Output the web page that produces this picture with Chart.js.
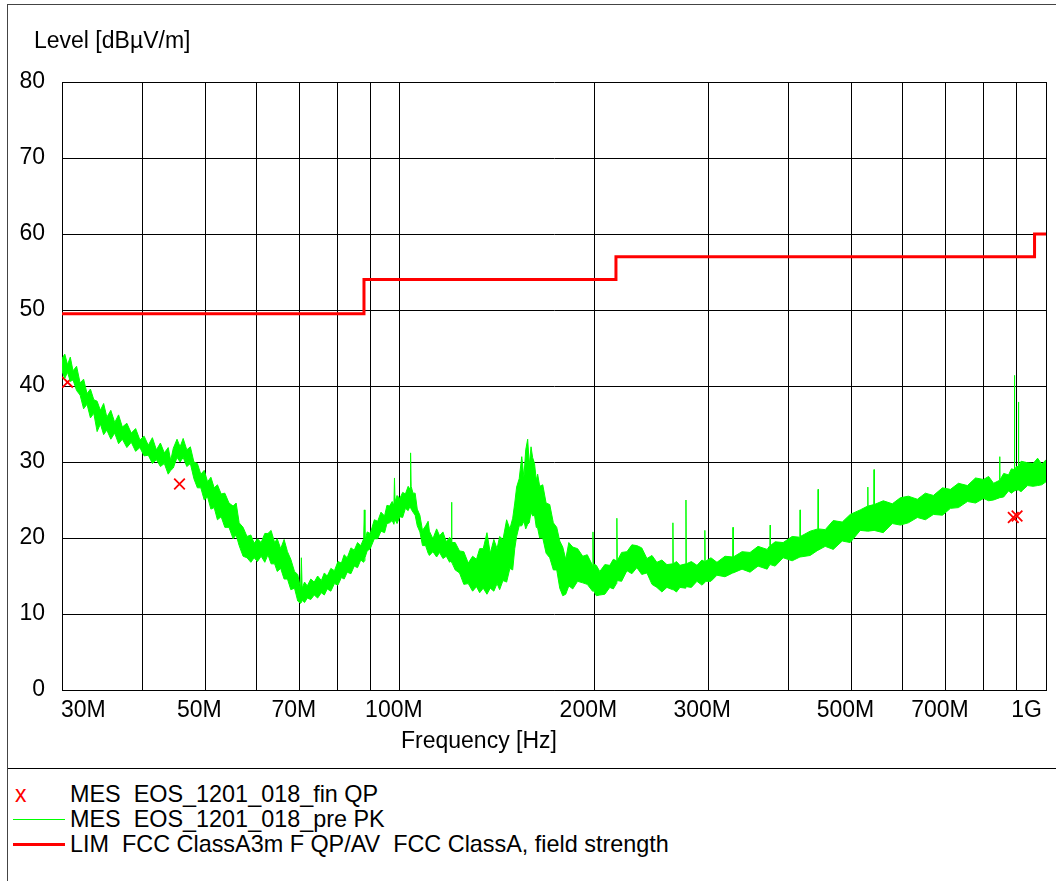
<!DOCTYPE html>
<html lang="en">
<head>
<meta charset="utf-8">
<script src="https://cdn.jsdelivr.net/npm/chart.js"></script>
<style>
  body { margin: 0; background: #fff; }
  #wrap { position: relative; width: 1056px; height: 881px; overflow: hidden; font-family: "Liberation Sans", Arial, sans-serif; }
  #frame { position: absolute; left: 7px; top: 4px; width: 1100px; height: 1000px; border: 1px solid #444; }
  #sep { position: absolute; left: 8px; top: 768px; width: 1048px; height: 1px; background: #000; }
  #emc { position: absolute; left: 0; top: 0; }
  .txt { position: absolute; font-size: 23px; line-height: 23px; white-space: pre; color: #000; }
  .leg { font-size: 23.4px; }
  .key { position: absolute; left: 13px; width: 52px; }
</style>
</head>
<body>
<div id="wrap">
  <div id="frame"></div>
  <canvas id="emc" width="1056" height="768"></canvas>
  <div id="sep"></div>

  <div class="txt" style="left:34px; top:29px;">Level [dBµV/m]</div>
  <div class="txt" style="left:401px; top:729px;">Frequency [Hz]</div>

  <!-- legend -->
  <div class="txt" style="left:15px; top:783px; color:#ff0000;">x</div>
  <div class="txt leg" style="left:70px; top:783px;">MES  EOS_1201_018_fin QP</div>
  <div class="key" style="top:819px; border-top:1px solid #00ff00;"></div>
  <div class="txt leg" style="left:70px; top:808px;">MES  EOS_1201_018_pre PK</div>
  <div class="key" style="top:843px; height:3px; background:#ff0000;"></div>
  <div class="txt leg" style="left:70px; top:833px;">LIM  FCC ClassA3m F QP/AV  FCC ClassA, field strength</div>
</div>

<script>
  // frequency axis (MHz)
  const gridFreq = [30, 40, 50, 60, 70, 80, 90, 100, 200, 300, 400, 500, 600, 700, 800, 900, 1000];
  const xLabelFreq = [30, 50, 70, 100, 200, 300, 500, 700, 1000];
  const xLabelText = ['30M', '50M', '70M', '100M', '200M', '300M', '500M', '700M', '1G'];

  // limit line FCC class A 3m
  const limFreq = [30, 88, 216, 960, 1000];
  const limLevel = [49.5, 54, 57, 60, 60];

  // final QP measurements
  const qpFreq = [30.6, 45.6, 890, 902];
  const qpLevel = [40.5, 27.1, 22.7, 22.9];

  // pre-scan peak trace, read as upper / lower edge of the noise band
  const pkFreq = [
    30.0, 30.3, 30.6, 30.9, 31.2, 31.6, 32.0, 32.4, 32.8, 33.2, 33.6,
    34.0, 34.4, 34.8, 35.2, 35.7, 36.2, 36.7, 37.2, 37.8, 38.4, 39.0, 39.6, 40.2,
    40.8, 41.4, 42.0, 42.6, 43.2, 43.8, 44.2, 44.6, 45.2, 45.7, 46.2, 46.8, 47.4, 48.0,
    48.6, 49.2, 49.8, 50.4, 51.0, 51.6, 52.2, 52.9, 53.6, 54.4, 55.2, 55.8, 56.4,
    57.2, 58.0, 58.8, 59.5, 60.2, 61.0, 61.8, 62.5, 63.2, 64.0, 64.6, 65.4, 66.2, 67.0, 67.8, 68.7, 69.5, 70.2,
    70.4, 70.6, 71.2, 71.9, 72.8, 73.7, 74.6, 75.6, 76.4, 77.2, 78.2, 79.2, 80.2, 81.2, 82.0, 82.9, 84.0, 85.0, 86.0, 87.0, 87.9, 88.1, 88.3,
    89.0, 90.0, 91.3, 92.4, 93.5, 94.7, 95.5, 96.4, 97.3, 97.9, 98.1, 98.3, 99.0, 100.0, 101.0, 102.0, 103.0, 103.7, 103.9, 104.1, 104.8, 105.6, 106.4, 107.4, 108.4, 109.6, 110.6,
    111.1, 112.5, 114.0, 115.2, 116.6, 118.0, 119.4, 120.0, 120.2, 120.4, 121.8, 123.7, 125.6, 127.6, 129.6, 131.4, 132.9, 134.6, 136.4, 138.0, 139.8, 141.4, 142.7, 144.4, 146.3, 148.0, 149.5, 150.6,
    151.6, 153.0, 154.4, 155.6, 156.6, 157.7, 158.6, 159.6, 160.5, 161.6, 162.6, 163.4, 164.6, 166.4, 168.4, 170.6, 172.8, 174.9, 176.8, 178.7, 180.6, 182.6, 185.2, 188.4, 191.9, 195.0, 198.7, 199.0, 199.3,
    201.4, 203.9, 207.6, 211.3, 214.0, 216.4, 216.7, 217.0, 220.4, 224.6, 228.6, 232.7, 236.8, 241.2, 245.6, 249.9, 254.4, 259.0, 264.3, 264.6, 264.9, 268.0, 271.3, 276.9, 277.2, 277.5, 282.6, 288.3, 293.4, 296.2, 296.5, 296.8,
    303.0, 309.6, 318.6, 327.5, 327.8, 328.1, 338.5, 348.3, 358.4, 370.2, 373.8, 374.2, 374.6, 380.9, 391.9, 404.7, 416.1, 416.4, 416.7, 431.5, 443.7, 444.0, 444.3, 455.3, 468.5, 483.8, 497.7, 515.8, 529.7, 530.0, 530.3, 541.7, 542.0, 542.3, 560.0, 578.3, 595.1,
    612.4, 632.3, 650.6, 669.5, 691.4, 711.4, 732.0, 755.8, 777.9, 800.5, 815.0, 829.6, 847.7, 848.0, 848.3, 860.0, 875.0, 884.0, 893.6, 893.9, 894.2, 900.0, 906.5, 906.8, 907.1, 915.0, 936.6, 955.0, 970.5, 985.0, 1000.0
  ];
  const pkHigh = [
    43.6, 44.2, 42.8, 43.8, 42.0, 42.6, 40.4, 40.9, 39.0, 39.6, 38.2,
    38.0, 36.8, 37.7, 35.9, 36.8, 35.2, 36.2, 34.6, 35.1, 33.8, 34.4, 32.9, 33.4,
    32.2, 33.2, 31.6, 32.5, 31.2, 31.9, 30.2, 31.8, 33.0, 32.0, 33.1, 31.6, 32.0, 30.0,
    29.8, 28.4, 28.9, 27.4, 28.0, 26.6, 27.0, 25.8, 25.9, 24.6, 24.2, 24.6, 22.0,
    21.4, 20.2, 20.4, 19.3, 19.9, 19.4, 20.6, 20.6, 21.0, 19.4, 19.9, 18.6, 19.8, 18.2, 17.2, 15.6, 15.2, 13.3,
    17.4, 13.4, 14.2, 13.7, 14.6, 14.2, 15.0, 14.4, 15.4, 15.0, 16.0, 15.7, 16.9, 16.7, 17.8, 17.4, 18.7, 18.4, 19.4, 19.0, 19.9, 23.7, 19.6,
    20.8, 20.6, 22.4, 22.2, 23.4, 22.9, 24.3, 24.2, 24.8, 24.3, 27.9, 24.8, 25.6, 25.2, 26.0, 25.8, 26.8, 26.4, 31.2, 26.8, 25.9, 25.9, 23.8, 23.0, 21.0, 21.6, 22.2,
    20.9, 19.9, 21.2, 20.3, 20.8, 19.5, 20.1, 19.6, 24.7, 19.4, 19.4, 18.3, 18.2, 16.7, 17.6, 17.2, 18.6, 18.6, 20.7, 18.0, 19.8, 18.6, 20.2, 19.8, 22.4, 21.2, 22.6, 24.6,
    26.7, 27.8, 30.7, 28.0, 31.6, 33.0, 29.6, 32.0, 30.6, 29.8, 27.6, 28.4, 26.8, 27.0, 24.6, 24.4, 22.0, 21.4, 19.6, 18.8, 17.2, 19.4, 18.8, 18.6, 17.6, 17.8, 16.4, 20.8, 16.6,
    16.4, 15.6, 16.5, 16.4, 17.2, 17.0, 22.6, 17.0, 18.1, 18.2, 19.1, 19.0, 18.7, 17.3, 17.7, 16.8, 17.1, 16.5, 16.6, 22.0, 16.6, 16.9, 16.4, 16.6, 25.0, 16.6, 16.9, 16.4, 17.1, 16.9, 21.0, 16.9,
    17.4, 16.8, 17.6, 17.5, 21.4, 17.5, 18.2, 18.1, 18.9, 18.5, 19.0, 21.7, 19.0, 19.5, 19.4, 20.2, 20.1, 23.7, 20.2, 20.9, 21.2, 26.4, 21.2, 21.1, 22.3, 22.1, 23.1, 23.7, 24.2, 26.7, 24.2, 24.4, 29.0, 24.4, 24.9, 24.5, 25.3,
    25.5, 25.1, 25.9, 25.6, 26.6, 26.4, 27.2, 26.9, 27.9, 27.7, 28.1, 27.2, 27.6, 30.7, 27.6, 28.5, 28.3, 29.1, 29.0, 41.4, 29.0, 29.4, 29.4, 37.9, 29.4, 30.1, 29.9, 29.8, 30.5, 29.7, 30.3
  ];
  const pkLow = [
    42.0, 41.0, 41.8, 40.6, 40.8, 39.4, 38.8, 37.0, 37.6, 35.8, 36.4,
    34.0, 35.0, 33.6, 34.2, 33.0, 33.8, 32.4, 33.0, 31.9, 32.6, 31.4, 31.9, 30.8,
    30.9, 29.8, 30.3, 29.4, 29.8, 28.4, 28.9, 29.2, 30.6, 30.0, 30.6, 29.4, 29.8, 27.8,
    26.6, 26.6, 25.0, 25.4, 23.8, 24.0, 22.4, 22.8, 21.4, 21.4, 19.9, 20.4, 19.0,
    17.6, 17.4, 16.8, 17.4, 16.9, 17.6, 16.8, 17.8, 16.6, 16.6, 15.6, 16.0, 14.6, 14.6, 13.2, 13.4, 11.7, 11.4,
    11.5, 11.8, 11.5, 12.1, 11.9, 12.5, 12.1, 12.8, 12.5, 13.3, 13.0, 14.0, 13.8, 14.8, 14.6, 15.5, 15.3, 16.3, 16.1, 17.1, 16.8, 17.0, 17.4,
    18.3, 18.6, 19.9, 19.9, 20.9, 20.7, 21.9, 22.0, 22.3, 21.8, 22.2, 22.4, 21.9, 22.8, 22.7, 23.9, 23.6, 24.2, 24.0, 23.8, 23.4, 23.0, 21.6, 20.8, 19.0, 19.0, 18.0,
    17.7, 18.2, 17.5, 18.1, 17.3, 17.6, 16.8, 17.0, 17.0, 16.8, 15.8, 15.4, 13.9, 14.0, 13.0, 13.6, 12.8, 13.4, 12.6, 13.4, 13.0, 14.0, 13.2, 14.4, 14.2, 16.0, 15.8, 18.6,
    20.2, 21.6, 21.6, 22.2, 21.2, 21.8, 22.0, 23.4, 22.9, 23.0, 21.4, 21.3, 20.0, 20.0, 18.0, 17.4, 15.8, 15.8, 13.4, 12.4, 12.6, 13.7, 13.3, 14.3, 14.1, 13.9, 13.0, 13.2, 13.1,
    12.4, 12.5, 12.6, 13.5, 13.3, 14.0, 14.2, 14.4, 14.3, 15.7, 15.3, 16.1, 15.2, 15.4, 13.9, 13.5, 12.9, 13.5, 13.2, 13.2, 13.2, 12.9, 13.5, 13.4, 13.5, 13.6, 13.5, 14.3, 13.8, 14.1, 14.2, 14.3,
    14.3, 15.1, 14.9, 15.4, 15.4, 15.4, 15.9, 15.5, 16.3, 15.9, 16.5, 16.5, 16.5, 16.3, 17.4, 17.0, 17.5, 17.5, 17.5, 17.7, 18.4, 18.4, 18.4, 18.9, 18.5, 19.6, 19.4, 21.0, 20.9, 20.9, 20.9, 21.0, 21.0, 21.0, 20.7, 21.9, 21.7,
    22.0, 22.7, 22.4, 23.1, 23.0, 23.9, 24.0, 24.8, 24.6, 25.2, 24.9, 25.0, 25.3, 25.3, 25.3, 25.4, 26.2, 25.9, 26.2, 26.2, 26.2, 26.3, 26.3, 26.3, 26.3, 26.1, 26.9, 26.8, 26.9, 27.0, 27.4
  ];

  const green = '#00ff00';
  const red = '#ff0000';
  const toPoints = (xs, ys) => xs.map((x, i) => ({ x: x, y: ys[i] }));

  // x tick labels: centred a bit left of the grid line, first and last kept inside the plot
  const xLabelPlugin = {
    id: 'xLabels',
    afterDraw(chart) {
      const ctx = chart.ctx;
      const xs = chart.scales.x;
      const area = chart.chartArea;
      ctx.save();
      ctx.font = '23px "Liberation Sans", Arial, sans-serif';
      ctx.fillStyle = '#000';
      ctx.textBaseline = 'alphabetic';
      xLabelFreq.forEach((f, i) => {
        let x = xs.getPixelForValue(f) - 6;
        ctx.textAlign = 'center';
        if (i === 0) { ctx.textAlign = 'left'; x = area.left - 1; }
        if (i === xLabelFreq.length - 1) { ctx.textAlign = 'right'; x = area.right - 4; }
        ctx.fillText(xLabelText[i], x, area.bottom + 27);
      });
      ctx.restore();
    }
  };

  new Chart(document.getElementById('emc'), {
    type: 'line',
    data: {
      datasets: [
        {
          label: 'pk low',
          data: toPoints(pkFreq, pkLow),
          borderColor: green,
          borderWidth: 1,
          pointRadius: 0,
          fill: false
        },
        {
          label: 'MES  EOS_1201_018_pre PK',
          data: toPoints(pkFreq, pkHigh),
          borderColor: green,
          backgroundColor: green,
          borderWidth: 1,
          pointRadius: 0,
          fill: '-1'
        },
        {
          label: 'LIM  FCC ClassA3m F QP/AV  FCC ClassA, field strength',
          data: toPoints(limFreq, limLevel),
          borderColor: red,
          borderWidth: 3,
          pointRadius: 0,
          stepped: true,
          fill: false
        },
        {
          label: 'MES  EOS_1201_018_fin QP',
          data: toPoints(qpFreq, qpLevel),
          showLine: false,
          pointStyle: 'crossRot',
          pointRadius: 7.5,
          borderColor: red,
          borderWidth: 1.8,
          fill: false
        }
      ]
    },
    options: {
      responsive: false,
      animation: false,
      devicePixelRatio: 1,
      layout: { padding: { top: 82, right: 10, left: 0, bottom: 0 } },
      plugins: { legend: { display: false }, tooltip: { enabled: false } },
      scales: {
        x: {
          type: 'logarithmic',
          min: 30,
          max: 1000,
          afterBuildTicks(scale) { scale.ticks = gridFreq.map(v => ({ value: v })); },
          afterFit(scale) { scale.height = 78; },
          ticks: { display: false },
          grid: { color: '#000', lineWidth: 1, drawTicks: false },
          border: { color: '#000' }
        },
        y: {
          min: 0,
          max: 80,
          afterFit(scale) { scale.width = 62; },
          ticks: { stepSize: 10, padding: 17, color: '#000', font: { family: 'Liberation Sans', size: 23 } },
          grid: { color: '#000', lineWidth: 1, drawTicks: false },
          border: { color: '#000' }
        }
      }
    },
    plugins: [xLabelPlugin]
  });
</script>
</body>
</html>
